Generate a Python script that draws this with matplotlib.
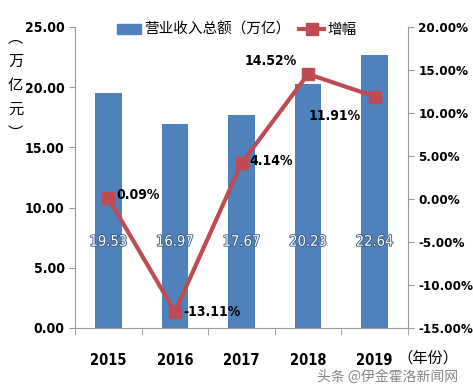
import numpy as np
import matplotlib.pyplot as plt
import matplotlib.patheffects as pe
from matplotlib.lines import Line2D
from matplotlib.patches import Patch

plt.rcParams['font.family'] = ['DejaVu Sans', 'Noto Sans CJK SC']
plt.rcParams['font.stretch'] = 'condensed'
plt.rcParams['axes.unicode_minus'] = False

years = ['2015', '2016', '2017', '2018', '2019']
revenue = [19.53, 16.97, 17.67, 20.23, 22.64]
growth = [0.09, -13.11, 4.14, 14.52, 11.91]
growth_labels = ['0.09%', '-13.11%', '4.14%', '14.52%', '11.91%']

bar_color = '#4F81BD'
line_color = '#BE4B51'

fig = plt.figure(figsize=(4.73, 3.9), dpi=100)
ax = fig.add_axes([0.1586, 0.159, 0.704, 0.772])
x = np.arange(len(years))

ax.bar(x, revenue, width=0.4, color=bar_color, zorder=2)
ax.set_xlim(-0.5, len(years) - 0.5)
ax.set_ylim(0, 25)
ax.set_yticks(np.arange(0, 26, 5))
ax.set_yticklabels([f'{v:.2f}' for v in np.arange(0, 26, 5)], fontweight='bold', fontsize=10)
ax.set_xticks(x)
ax.set_xticklabels(years, fontweight='bold', fontsize=10.5)
ax.set_xticks(np.arange(-0.5, len(years)), minor=True)
ax.tick_params(axis='x', which='major', length=0, pad=18)
ax.tick_params(axis='x', which='minor', length=5, color='#999999', direction='out')
ax.tick_params(axis='y', length=4, color='#999999', direction='out')
for s in ['top', 'right']:
    ax.spines[s].set_visible(False)
for s in ['left', 'bottom']:
    ax.spines[s].set_color('#999999')

for xi, v in zip(x, revenue):
    ax.text(xi, 7.2, f'{v:.2f}', ha='center', va='center', color='white',
            fontsize=10.5, zorder=3,
            path_effects=[pe.withStroke(linewidth=1.2, foreground='#35557f')])

ax2 = ax.twinx()
ax2.set_ylim(-15, 20)
ax2.set_yticks(np.arange(-15, 21, 5))
ax2.set_yticklabels([f'{v:.2f}%' for v in np.arange(-15, 21, 5)], fontweight='bold', fontsize=9.5)
ax2.tick_params(axis='y', length=4, color='#999999', direction='out')
for s in ['top', 'left', 'bottom']:
    ax2.spines[s].set_visible(False)
ax2.spines['right'].set_color('#999999')
ax2.plot(x, growth, color=line_color, lw=3, marker='s', ms=8, zorder=4)

offsets = [(6, 2, 'left', 'center'), (6, 0, 'left', 'center'), (6, 2, 'left', 'center'),
           (-8, 4, 'right', 'bottom'), (-10, -14, 'right', 'center')]
for xi, g, lab, (dx, dy, ha, va) in zip(x, growth, growth_labels, offsets):
    ax2.annotate(lab, (xi, g), xytext=(dx, dy), textcoords='offset points',
                 ha=ha, va=va, fontweight='bold', fontsize=10)

handles = [Patch(color=bar_color), Line2D([], [], color=line_color, lw=3, marker='s', ms=8)]
fig.legend(handles, ['营业收入总额（万亿）', '增幅'], loc='center', bbox_to_anchor=(0.5, 0.925),
           ncol=2, frameon=False, fontsize=10.5, handlelength=1.7, columnspacing=0.6,
           handletextpad=0.2)

for i, ch in enumerate(['︵', '万', '亿', '元', '︶']):
    fig.text(0.033, 0.905 - i * 0.062, ch, ha='center', va='center', fontsize=11,
             family='Noto Sans CJK SC')
fig.text(0.905, 0.082, '（年份）', ha='center', va='center', fontsize=11,
         family='Noto Sans CJK SC')
fig.text(0.82, 0.035, '头条 @伊金霍洛新闻网', ha='center', va='center', fontsize=10,
         color='#888888', family='Noto Sans CJK SC')

fig.savefig('out.png', dpi=100)
